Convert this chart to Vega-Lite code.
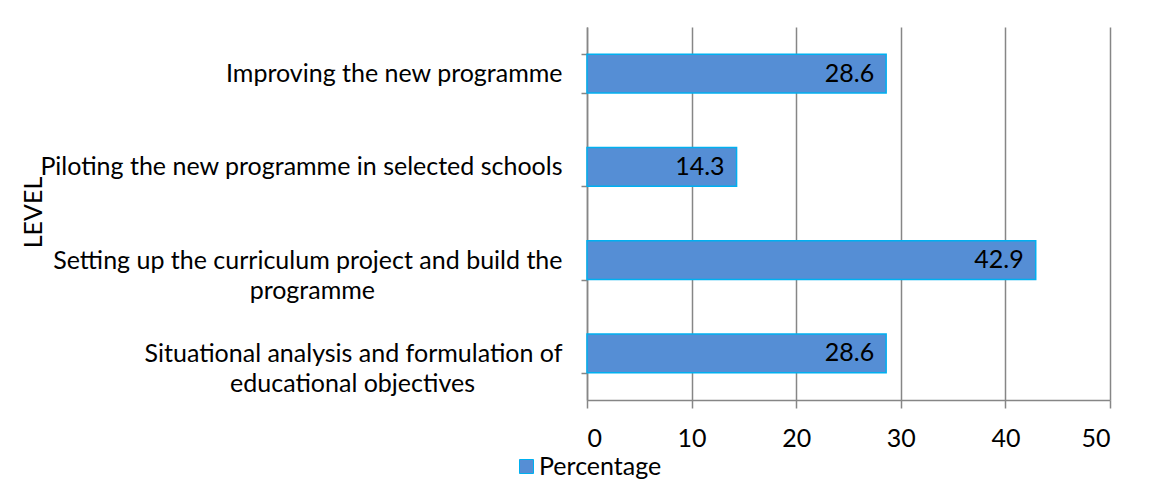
{
  "$schema": "https://vega.github.io/schema/vega-lite/v6.json",
  "width": 523,
  "height": 373,
  "autosize": {"type": "none"},
  "padding": {"left": 587, "top": 27, "right": 44, "bottom": 82},
  "background": "white",
  "config": {"font": "Lato", "view": {"stroke": null}},
  "data": {
    "values": [
      {"level": "Improving the new programme", "pct": 28.6, "series": "Percentage"},
      {"level": "Piloting the new programme in selected schools", "pct": 14.3, "series": "Percentage"},
      {"level": "Setting up the curriculum project and build the programme", "pct": 42.9, "series": "Percentage"},
      {"level": "Situational analysis and formulation of educational objectives", "pct": 28.6, "series": "Percentage"}
    ]
  },
  "encoding": {
    "y": {
      "field": "level",
      "type": "nominal",
      "sort": null,
      "scale": {"paddingInner": 0.582, "paddingOuter": 0.291},
      "axis": {
        "title": "LEVEL",
        "titleFontSize": 25,
        "titleFontWeight": "normal",
        "titleColor": "black",
        "titleX": -546,
        "titleY": 185,
        "titleAlign": "center",
        "titleBaseline": "alphabetic",
        "titleAngle": -90,
        "domainColor": "#868686",
        "domainWidth": 1.5,
        "tickColor": "#868686",
        "tickWidth": 1.5,
        "tickSize": 6,
        "tickBand": "extent",
        "grid": false,
        "labelFontSize": 25,
        "labelColor": "black",
        "labelPadding": 19,
        "labelLimit": 0,
        "labelLineHeight": 30,
        "labelExpr": "datum.value == 'Setting up the curriculum project and build the programme' ? ['Setting up the curriculum project and build the', 'programme\u2003\u2003\u2003\u2003\u2003\u2003\u2003\u2003\u2003\u2003\u200d'] : datum.value == 'Situational analysis and formulation of educational objectives' ? ['Situational analysis and formulation of', 'educational objectives\u2003\u2003\u2003\u2003\u2002\u200d'] : datum.label"
      }
    },
    "x": {
      "field": "pct",
      "type": "quantitative",
      "scale": {"domain": [0, 50]},
      "axis": {
        "title": null,
        "values": [0, 10, 20, 30, 40, 50],
        "grid": true,
        "gridColor": "#868686",
        "gridWidth": 1.5,
        "domainColor": "#868686",
        "domainWidth": 1.5,
        "tickColor": "#868686",
        "tickWidth": 1.5,
        "tickSize": 8,
        "labelFontSize": 25,
        "labelColor": "black",
        "labelPadding": 18
      }
    }
  },
  "layer": [
    {
      "mark": {"type": "bar", "stroke": "#00B0F0", "strokeWidth": 1.5},
      "encoding": {
        "color": {
          "field": "series",
          "type": "nominal",
          "scale": {"range": ["#558ED5"]},
          "legend": {
            "orient": "none",
            "legendX": -73,
            "legendY": 427,
            "title": null,
            "labelFontSize": 25,
            "labelColor": "black",
            "symbolType": "square",
            "symbolSize": 196,
            "symbolStrokeColor": "#00B0F0",
            "symbolStrokeWidth": 1,
            "labelOffset": 0
          }
        }
      }
    },
    {
      "mark": {"type": "text", "align": "right", "dx": -12, "fontSize": 25, "baseline": "middle", "color": "black"},
      "encoding": {"text": {"field": "pct", "type": "quantitative", "format": ".1f"}}
    }
  ]
}
